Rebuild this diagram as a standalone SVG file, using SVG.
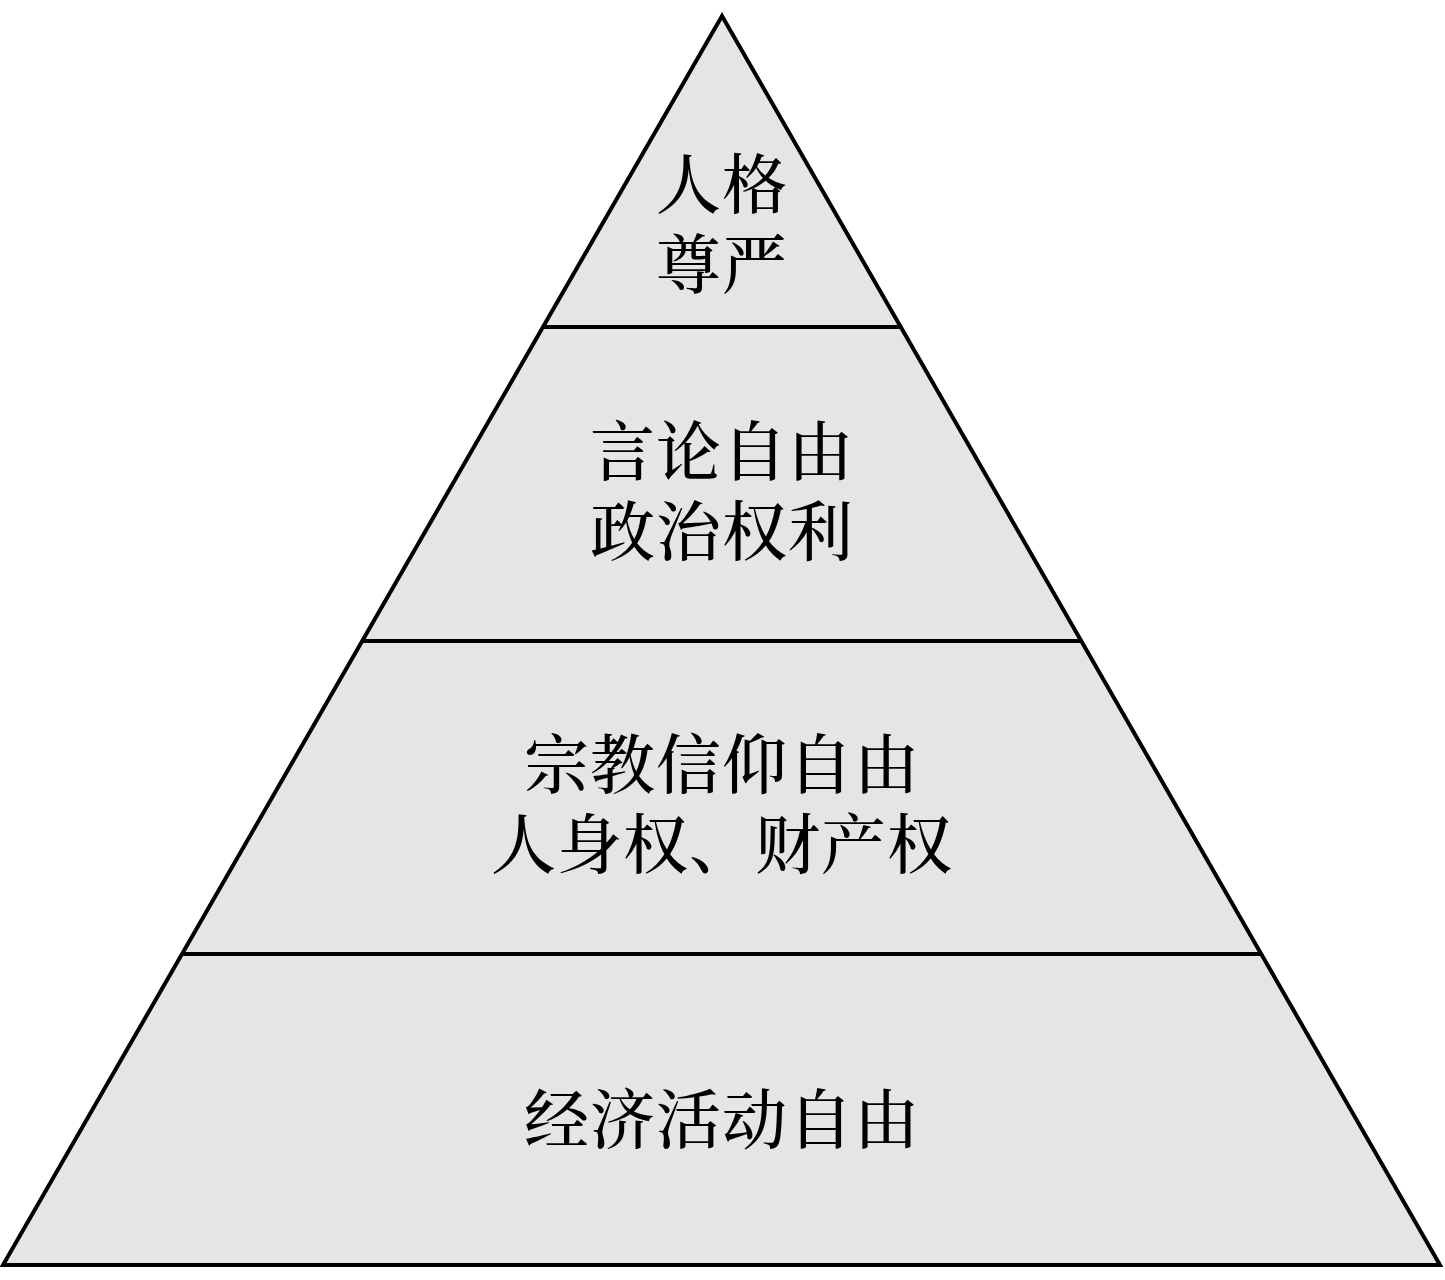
<svg xmlns="http://www.w3.org/2000/svg" width="1445" height="1280" viewBox="0 0 1445 1280">
<style>
.tier{fill:#e5e5e5;stroke:#000;stroke-width:4;stroke-linejoin:miter}
.line{stroke:#000;stroke-width:4}
.lbl{font-family:"Noto Serif CJK SC","Noto Sans CJK SC","Liberation Serif",serif;font-size:65px;font-weight:500;letter-spacing:1px;fill:#000;text-anchor:middle;dominant-baseline:central}
</style>
<rect width="1445" height="1280" fill="#fff"/>
<g id="pyramid">
<polygon class="tier" points="722,16 1440,1265 3,1265"/>
</g>
<g id="connectors">
<line class="line" x1="542" y1="327" x2="902" y2="327"/>
<line class="line" x1="362" y1="641" x2="1082" y2="641"/>
<line class="line" x1="182" y1="954" x2="1262" y2="954"/>
</g>
<g id="tier1">
<text class="lbl"><tspan x="722" y="180">人格</tspan><tspan x="722" y="260">尊严</tspan></text>
</g>
<g id="tier2">
<text class="lbl"><tspan x="722" y="447">言论自由</tspan><tspan x="722" y="527">政治权利</tspan></text>
</g>
<g id="tier3">
<text class="lbl"><tspan x="722" y="760">宗教信仰自由</tspan><tspan x="722" y="840">人身权、财产权</tspan></text>
</g>
<g id="tier4">
<text class="lbl" x="722" y="1115">经济活动自由</text>
</g>
</svg>
